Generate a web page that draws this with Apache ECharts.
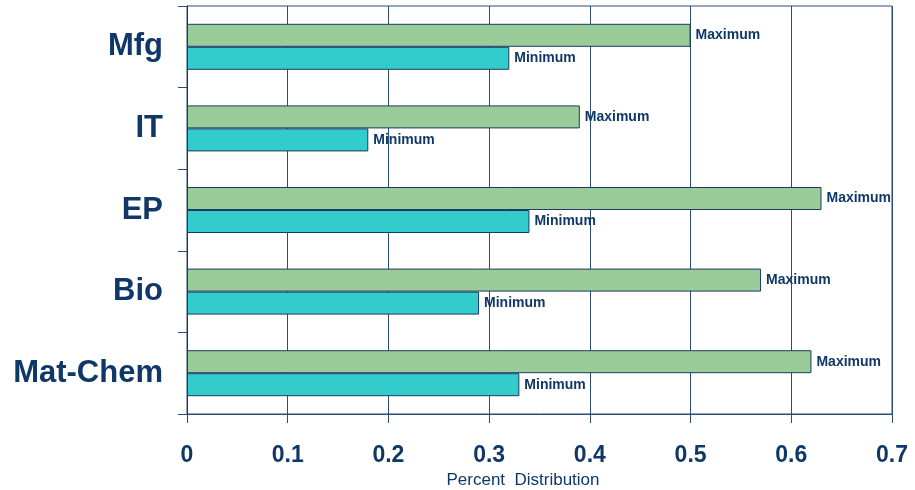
<!DOCTYPE html>
<html>
<head>
<meta charset="utf-8">
<script src="https://cdn.jsdelivr.net/npm/echarts@6/dist/echarts.min.js"></script>
<style>
  html, body { margin: 0; padding: 0; background: #ffffff; }
  #chart { width: 915px; height: 490px; }
</style>
</head>
<body>
<div id="chart"></div>
<script>
// Sectors, top to bottom
const sectors = ['Mfg', 'IT', 'EP', 'Bio', 'Mat-Chem'];
// Percent distribution per sector
const maximumValues = [0.50, 0.39, 0.63, 0.57, 0.62];
const minimumValues = [0.32, 0.18, 0.34, 0.29, 0.33];
const xTicks = [0, 0.1, 0.2, 0.3, 0.4, 0.5, 0.6, 0.7];

const navy = '#0f3768';
const lineColor = '#2d4c74';
const font = '"Liberation Sans", Arial, sans-serif';

const chart = echarts.init(document.getElementById('chart'), null, { renderer: 'canvas' });

const barLabel = (text) => ({
  show: true,
  position: 'right',
  distance: 5,
  formatter: text,
  color: navy,
  fontFamily: font,
  fontWeight: 'bold',
  fontSize: 14
});

chart.setOption({
  animation: false,
  backgroundColor: '#ffffff',
  grid: {
    left: 187, right: 23, top: 6, bottom: 76,
    show: true, borderColor: lineColor, borderWidth: 1,
    containLabel: false,
    outerBoundsMode: 'none'
  },
  xAxis: {
    type: 'value',
    min: xTicks[0],
    max: xTicks[xTicks.length - 1],
    interval: 0.1,
    name: 'Percent  Distribution',
    nameLocation: 'middle',
    nameGap: 57,
    nameTextStyle: { color: navy, fontFamily: font, fontSize: 17, padding: [0, 33, 0, 0] },
    axisLine: { show: true, lineStyle: { color: lineColor, width: 1 } },
    axisTick: { show: true, length: 9, lineStyle: { color: lineColor } },
    axisLabel: {
      margin: 30,
      color: navy,
      fontFamily: font,
      fontWeight: 'bold',
      fontSize: 23,
      formatter: (v) => String(Math.round(v * 10) / 10)
    },
    splitLine: { show: true, lineStyle: { color: lineColor, width: 1 } }
  },
  yAxis: {
    type: 'category',
    data: sectors,
    inverse: true,
    axisLine: { show: true, lineStyle: { color: navy, width: 1 } },
    axisTick: { show: true, length: 9, lineStyle: { color: lineColor } },
    axisLabel: {
      margin: 24,
      color: navy,
      fontFamily: font,
      fontWeight: 'bold',
      fontSize: 31
    },
    splitLine: { show: false }
  },
  series: [
    {
      name: 'Maximum',
      type: 'bar',
      data: maximumValues,
      barWidth: 23,
      barGap: '0%',
      itemStyle: { color: '#99cc99', borderColor: '#1d3a62', borderWidth: 1 },
      label: barLabel('Maximum')
    },
    {
      name: 'Minimum',
      type: 'bar',
      data: minimumValues,
      barWidth: 23,
      barGap: '0%',
      itemStyle: { color: '#33cccc', borderColor: '#1d3a62', borderWidth: 1 },
      label: barLabel('Minimum')
    }
  ]
});
</script>
</body>
</html>
